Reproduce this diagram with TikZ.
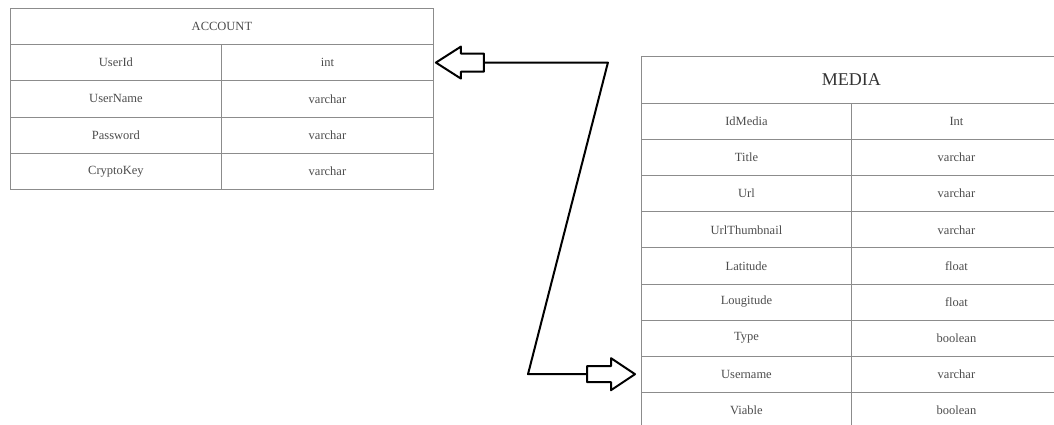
\documentclass[tikz,border=0pt]{standalone}
\usepackage{fontspec}
\setmainfont{Liberation Serif}
\usetikzlibrary{calc}
\begin{document}
\begin{tikzpicture}[x=1pt,y=-1pt,
  cell/.style={draw=black!45, line width=0.9pt, inner sep=0pt, anchor=north west,
    font=\fontsize{12.5}{14}\selectfont, text=black!70},
  conn/.style={draw=black, line width=2pt, line join=round}]
\useasboundingbox (0,0) rectangle (1054,425);
\clip (0,0) rectangle (1054,425);
% ACCOUNT table
\node[cell, minimum width=423pt, minimum height=36pt] (acc) at (10,8) {ACCOUNT};
\foreach \n/\t [count=\i] in {UserId/int, UserName/varchar, Password/varchar, CryptoKey/varchar}{
  \node[cell, minimum width=211pt, minimum height=36.3pt] (accN\i) at (10,{44+36.3*(\i-1)}) {\n};
  \node[cell, minimum width=212pt, minimum height=36.3pt] (accT\i) at (221,{44+36.3*(\i-1)}) {\t};
}
% MEDIA table
\node[cell, minimum width=420pt, minimum height=47pt, font=\fontsize{18}{20}\selectfont, text=black!80] (med) at (641,56) {MEDIA};
\foreach \n/\t [count=\i] in {IdMedia/Int, Title/varchar, Url/varchar, UrlThumbnail/varchar, Latitude/float, Lougitude/float, Type/boolean, Username/varchar, Viable/boolean}{
  \node[cell, minimum width=210pt, minimum height=36.1pt] (medN\i) at (641,{103+36.1*(\i-1)}) {\n};
  \node[cell, minimum width=210pt, minimum height=36.1pt] (medT\i) at (851,{103+36.1*(\i-1)}) {\t};
}
% connector ends
\coordinate (accIn) at ($(accT1.east)+(2,0)$);
\coordinate (medIn) at ($(medN8.west)+(-6,0)$);
% left block arrow
\draw[conn] (accIn) -- ++(25,-16) -- ++(0,7) -- ++(23,0) -- ++(0,18) -- ++(-23,0) -- ++(0,7) -- cycle;
% connector line
\draw[conn] ($(accIn)+(48,0)$) -- ($(accIn)+(172,0)$) -- ($(medIn)+(-107,0)$) -- ($(medIn)+(-48,0)$);
% right block arrow
\draw[conn] (medIn) -- ++(-24,-16) -- ++(0,8) -- ++(-24,0) -- ++(0,16) -- ++(24,0) -- ++(0,8) -- cycle;
\end{tikzpicture}
\end{document}
